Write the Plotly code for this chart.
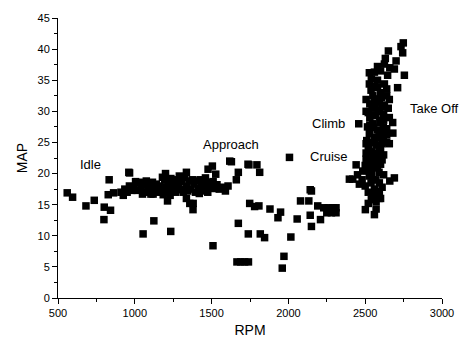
import plotly.graph_objects as go

# Idle / approach cluster and scattered low-rpm points
rpm_low = [560, 595, 682, 736, 801, 842, 799, 833, 827, 862, 966, 1054, 1124,
           910, 925, 935, 950, 965, 980, 995, 1005, 1015, 1030, 1040, 1050, 1055, 1065, 1075,
           1085, 1095, 1105, 1115, 1130, 1140, 1150, 1165, 1175, 1185, 1195, 1205, 1215, 1225,
           1235, 1245, 1255, 1265, 1275, 1285, 1295, 1305, 1315, 1325, 1335, 1345, 1355, 1365,
           1375, 1385, 1395, 1405, 1415, 1425, 1435, 1445, 1455, 1465, 1475, 1485, 1500, 1510,
           1520, 1535, 1550, 1570, 1590, 1460, 1290, 1230, 1200, 1336, 1180, 1420, 961,
           1213, 1336, 1358, 1380, 1379, 1234, 1509, 1119, 1488, 1607]
map_low = [16.9, 16.2, 14.8, 15.7, 14.6, 14.1, 12.6, 19.0, 16.6, 16.9, 20.1, 10.3, 12.4,
           17.0, 16.5, 17.5, 17.0, 18.0, 17.3, 17.8, 18.7, 17.3, 18.6, 17.6, 16.7, 18.2, 17.0, 18.8,
           17.5, 18.4, 16.7, 18.6, 17.7, 18.3, 17.0, 18.0, 17.2, 16.6, 19.0, 17.8, 18.6, 17.0,
           19.2, 17.9, 18.5, 17.0, 19.0, 18.0, 17.4, 18.7, 17.0, 19.3, 18.0, 17.2, 18.8, 17.5,
           19.0, 18.3, 17.0, 18.8, 17.6, 19.0, 18.0, 17.2, 18.6, 17.5, 17.0, 18.2, 17.8, 18.7,
           17.6, 18.2, 17.5, 17.8, 17.2, 19.3, 19.6, 16.5, 20.0, 20.2, 19.4, 16.8, 20.2,
           15.6, 16.0, 15.2, 15.2, 14.2, 10.7, 8.4, 16.7, 18.6, 18.0]

# Mid-range (approach to cruise) points
rpm_mid = [1477, 1505, 1527, 1618, 1629, 1661, 1674, 1743, 1795, 1813, 1737,
           1748, 1780, 1808, 1880, 1949, 1932, 2057, 1674, 1739, 1817, 1845, 2016,
           1665, 1690, 1715, 1740, 1971, 1960, 2007, 2142, 2150, 2079, 2133, 2191,
           2142, 2209, 2150, 2230, 2260, 2290, 2310, 2250, 2280, 2310, 2397]
map_mid = [20.7, 21.2, 19.9, 22.0, 21.9, 19.0, 20.2, 21.4, 21.4, 20.2, 21.5,
           15.2, 14.7, 14.8, 14.3, 13.8, 12.9, 12.7, 12.0, 10.3, 10.3, 9.7, 9.8,
           5.8, 5.8, 5.8, 5.8, 6.7, 4.8, 22.6, 17.4, 17.2, 15.6, 15.6, 14.8,
           13.3, 12.6, 11.5, 14.5, 14.5, 14.5, 14.5, 13.7, 13.7, 13.7, 19.1]

# Climb / take-off column
rpm_high = [2560, 2571, 2501, 2571, 2549, 2592, 2538, 2592, 2462, 2419, 2527, 2690, 2484,
            2549, 2441, 2549, 2506, 2580, 2506, 2592, 2506, 2657, 2618, 2527, 2618, 2549,
            2458, 2679, 2657, 2506, 2592, 2592, 2506, 2657, 2640, 2625, 2538, 2527, 2711,
            2755, 2646, 2527, 2560, 2625, 2701, 2631, 2744, 2651, 2733, 2748,
            2520, 2540, 2600, 2520, 2560, 2610, 2500, 2570, 2620, 2510, 2590, 2530, 2600,
            2520, 2560, 2620, 2540, 2600, 2520, 2570, 2640, 2510, 2560, 2590, 2530, 2580,
            2640, 2515, 2600, 2530, 2570, 2620, 2545, 2610, 2530, 2570, 2640, 2550, 2600,
            2560, 2580, 2540, 2600, 2660, 2580, 2690, 2560, 2580, 2620, 2650, 2680, 2640,
            2520, 2560, 2480, 2450, 2500, 2660,
            2540, 2580, 2610, 2550, 2590, 2535, 2575, 2615, 2555, 2595, 2545, 2585, 2625,
            2565, 2605, 2530, 2570, 2610, 2550, 2590]
map_high = [13.4, 14.3, 14.2, 15.5, 16.5, 17.1, 18.5, 18.5, 18.3, 19.1, 19.6, 19.3, 20.4,
            20.9, 21.4, 21.8, 22.3, 22.8, 23.3, 24.3, 24.8, 24.8, 25.9, 26.4, 27.5, 28.0,
            28.0, 28.2, 29.0, 30.0, 30.0, 31.6, 31.9, 31.9, 33.6, 34.4, 33.4, 34.4, 33.8,
            35.8, 35.8, 36.2, 36.3, 37.6, 38.1, 38.5, 39.4, 39.7, 40.4, 41.0,
            15.2, 15.8, 16.0, 17.0, 17.5, 17.8, 18.0, 19.0, 19.8, 20.5, 20.2, 21.0, 21.5,
            22.0, 22.5, 23.0, 23.5, 23.8, 24.0, 24.6, 25.0, 25.3, 25.5, 26.0, 26.8, 27.0,
            27.2, 27.5, 28.5, 29.0, 29.3, 29.6, 30.5, 30.8, 31.2, 31.5, 32.5, 32.5, 33.0,
            34.0, 35.0, 35.2, 36.5, 37.0, 37.2, 36.8, 32.0, 33.8, 28.6, 30.5, 26.5, 26.2,
            29.8, 23.2, 19.0, 19.8, 21.3, 18.8,
            20.0, 21.2, 22.2, 23.0, 24.2, 25.0, 25.8, 26.6, 27.4, 28.2, 29.4, 30.2, 31.0,
            30.8, 32.2, 27.8, 22.0, 24.8, 19.0, 16.0]

labels = ["Idle", "Approach", "Climb", "Cruise", "Take Off"]
label_rpm = [711, 1627, 2264, 2267, 2948]
label_map = [21.5, 24.7, 28.0, 22.8, 30.4]

x = rpm_low + rpm_mid + rpm_high
y = map_low + map_mid + map_high

FONT = "Liberation Sans, Arial, sans-serif"

fig = go.Figure()
fig.add_trace(go.Scatter(
    x=x, y=y, mode="markers",
    marker=dict(symbol="square", size=7.5, color="black", line=dict(width=0)),
    showlegend=False, cliponaxis=False,
))

for t, lx, ly in zip(labels, label_rpm, label_map):
    fig.add_annotation(x=lx, y=ly, text=t, showarrow=False,
                       font=dict(family=FONT, size=13, color="black"))

axis_common = dict(
    showline=True, linecolor="black", linewidth=1,
    ticks="outside", ticklen=5, tickcolor="black", tickwidth=1,
    showgrid=False, zeroline=False, mirror=False,
    tickfont=dict(family=FONT, size=11, color="black"),
)

fig.update_xaxes(range=[500, 3000], dtick=500, tick0=500,
                 minor=dict(dtick=250, ticklen=3, tickcolor="black", ticks="outside"),
                 title=dict(text="RPM", font=dict(family=FONT, size=14, color="black"),
                            standoff=6),
                 **axis_common)
fig.update_yaxes(range=[0, 45], dtick=5, tick0=0,
                 minor=dict(dtick=2.5, ticklen=3, tickcolor="black", ticks="outside"),
                 title=dict(text="MAP", font=dict(family=FONT, size=14, color="black"),
                            standoff=6),
                 **axis_common)

fig.update_layout(
    width=468, height=347,
    margin=dict(l=58, r=26, t=14, b=44),
    plot_bgcolor="white", paper_bgcolor="white",
)

fig.write_html("out.html", config={"displayModeBar": False},
               post_script="document.body.style.margin='0';document.body.style.overflow='hidden';")
